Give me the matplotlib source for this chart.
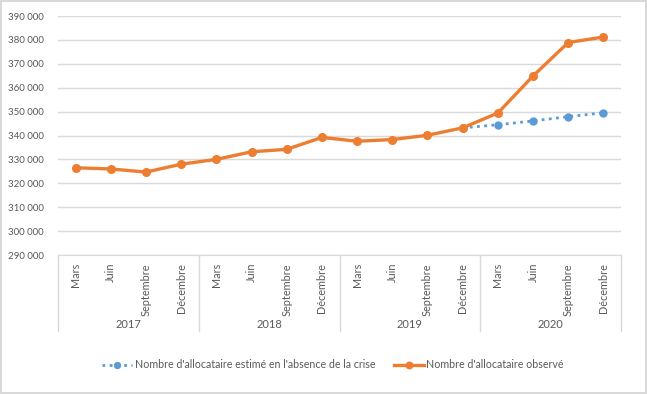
import matplotlib
matplotlib.use("Agg")
import matplotlib.pyplot as plt
import numpy as np

months = ["Mars", "Juin", "Septembre", "Décembre"]
years = ["2017", "2018", "2019", "2020"]
observed = [326500, 326000, 324700, 328000, 330000, 333200, 334200, 339200,
            337600, 338300, 340100, 343200, 349400, 364900, 378900, 381200]
estimated = [None] * 11 + [343200, 344500, 346100, 347900, 349500]
yticks = list(range(290000, 390001, 10000))

plt.rcParams['font.family'] = ['Lato', 'DejaVu Sans']
txt = '#595959'
grid = '#D9D9D9'
orange = '#ED7D31'
blue = '#5B9BD5'

W, H = 647, 394
fig = plt.figure(figsize=(W / 100, H / 100), dpi=100)
fig.patch.set_edgecolor(grid)
fig.patch.set_linewidth(1.5)
left, right, top, bottom = 58, 621, 16, 255
ax = fig.add_axes([left / W, 1 - bottom / H, (right - left) / W, (bottom - top) / H])

n = len(observed)
x = np.arange(n)
est = np.array([np.nan if v is None else v for v in estimated], dtype=float)

ax.plot(x, est, color=blue, lw=2, linestyle=(0, (1, 1.6)), marker='o', ms=5,
        label="Nombre d'allocataire estimé en l'absence de la crise", zorder=3)
ax.plot(x, observed, color=orange, lw=2.4, marker='o', ms=5.5,
        label="Nombre d'allocataire observé", zorder=4)

ax.set_xlim(-0.5, n - 0.5)
ax.set_ylim(yticks[0], yticks[-1])
ax.set_yticks(yticks)
ax.set_yticklabels([f"{v // 1000} {v % 1000:03d}" for v in yticks], color=txt, fontsize=7)
ax.tick_params(axis='y', length=0, pad=10)
ax.set_xticks([])
ax.grid(axis='y', color=grid, lw=1)
ax.set_axisbelow(True)
for s in ['top', 'right', 'left']:
    ax.spines[s].set_visible(False)
ax.spines['bottom'].set_color(grid)

axh = bottom - top
tr = ax.get_xaxis_transform()
for i in range(n):
    ax.text(i, -8 / axh, months[i % 4], rotation=90, ha='center', va='top',
            fontsize=7.8, color=txt, transform=tr)
for k, yr in enumerate(years):
    ax.text(4 * k + 1.5, -70 / axh, yr, ha='center', va='center', fontsize=8,
            color=txt, transform=tr)
for k in range(len(years) + 1):
    ax.plot([4 * k - 0.5] * 2, [0, -76 / axh], color=grid, lw=1, transform=tr,
            clip_on=False)

fig.legend(loc='center', bbox_to_anchor=(0.515, 1 - 365 / H), ncol=2, frameon=False,
           fontsize=7.7, labelcolor=txt, handlelength=2.8, columnspacing=1.8,
           handletextpad=0.2, markerscale=0.85)

fig.savefig("out.png", dpi=100)
